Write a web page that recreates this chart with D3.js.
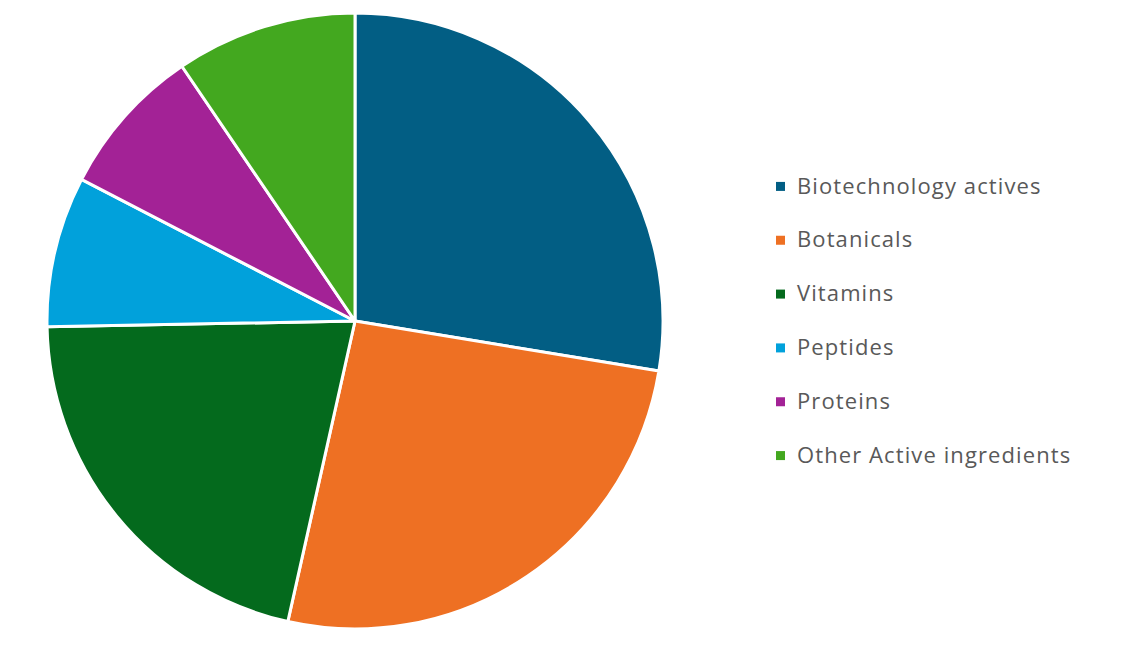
<!DOCTYPE html>
<html>
<head>
<meta charset="utf-8">
<script src="https://cdn.jsdelivr.net/npm/d3@7"></script>
<style>
    body { margin: 0; background: #fff; }
    svg { display: block; }
</style>
</head>
<body>
<div id="chart"></div>
<script>
// values (share of the pie, %)
let categories = ["Biotechnology actives", "Botanicals", "Vitamins", "Peptides", "Proteins", "Other Active ingredients"];
let values = [27.6, 25.9, 21.2, 7.9, 7.9, 9.5];
let colors = ["#025E84", "#EE7023", "#046A1D", "#01A1DB", "#A32296", "#43A81F"];

const width = 1141, height = 652;
const cx = 355, cy = 321, radius = 308;

let svg = d3.select("#chart")
    .append("svg")
    .attr("width", width)
    .attr("height", height);

let color = d3.scaleOrdinal().domain(categories).range(colors);

let pie = d3.pie()
    .sort(null)
    .value(d => d.value);

let arc = d3.arc()
    .innerRadius(0)
    .outerRadius(radius);

let data = categories.map((c, i) => ({ name: c, value: values[i] }));

svg.append("g")
    .attr("transform", `translate(${cx}, ${cy})`)
    .selectAll("path")
    .data(pie(data))
    .enter()
    .append("path")
    .attr("d", arc)
    .attr("fill", d => color(d.data.name))
    .attr("stroke", "#fff")
    .attr("stroke-width", 3)
    .attr("stroke-linejoin", "round");

// legend
let legendY = d3.scaleBand()
    .domain(categories)
    .range([159, 482]);

let legend = svg.append("g")
    .selectAll("g")
    .data(categories)
    .enter()
    .append("g")
    .attr("transform", d => `translate(776, ${legendY(d) + legendY.bandwidth() / 2})`);

legend.append("rect")
    .attr("x", 0)
    .attr("y", -4)
    .attr("width", 9)
    .attr("height", 9)
    .attr("fill", d => color(d));

legend.append("text")
    .attr("x", 21)
    .attr("y", 0)
    .attr("dy", "0.35em")
    .attr("font-family", "'Open Sans', sans-serif")
    .attr("font-size", 22)
    .attr("letter-spacing", 1.1)
    .attr("fill", "#595959")
    .text(d => d);
</script>
</body>
</html>
